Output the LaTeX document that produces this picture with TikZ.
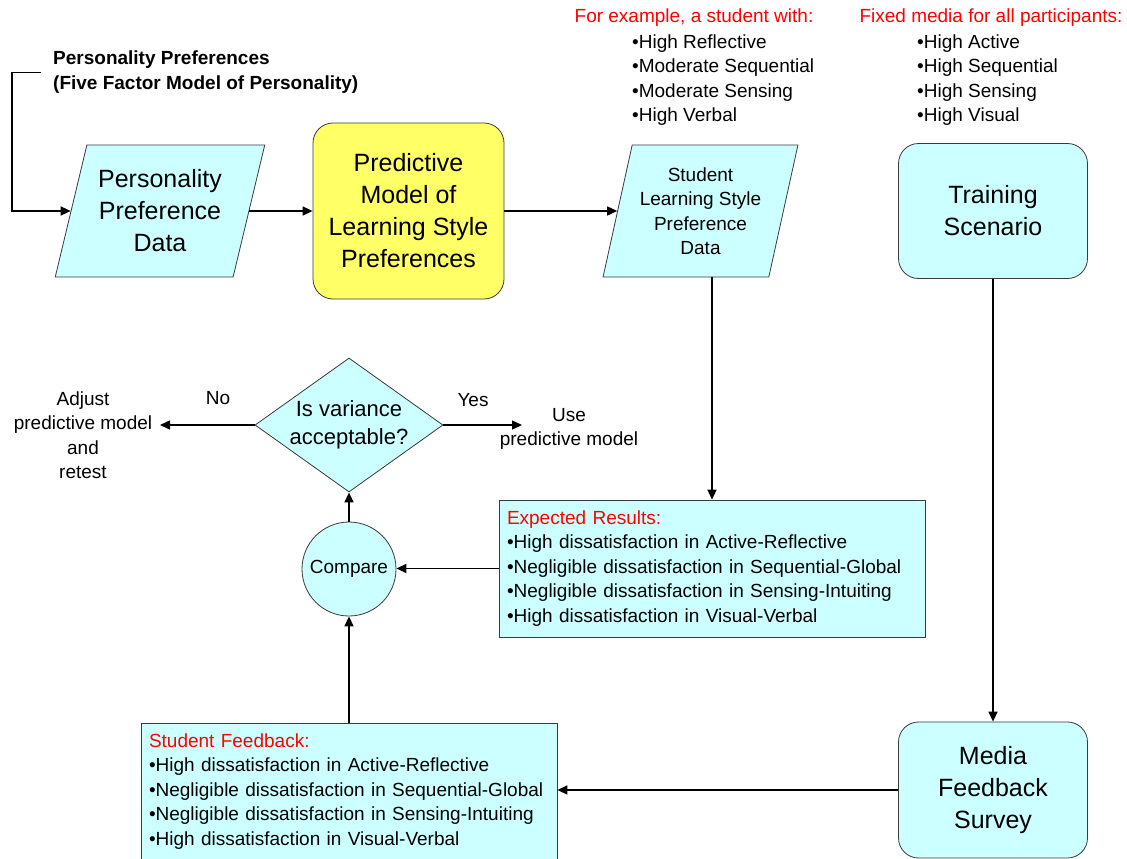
\documentclass[tikz,border=0pt]{standalone}
\usepackage{fontspec}
\setmainfont{Liberation Sans}
\usetikzlibrary{shapes.geometric,arrows.meta}
\definecolor{cyanfill}{HTML}{CCFFFF}
\definecolor{yellowfill}{HTML}{FFFF66}
\definecolor{edgecol}{HTML}{3A3A3A}
\definecolor{redtext}{HTML}{FF0000}
\begin{document}
\begin{tikzpicture}[x=1pt,y=-1pt,
  bigtext/.style={font=\fontsize{25}{32}\selectfont, align=center},
  medtext/.style={font=\fontsize{19}{24.5}\selectfont, align=center},
  listtext/.style={font=\fontsize{19}{24.5}\selectfont, align=left},
  parabox/.style={trapezium, trapezium stretches=true, trapezium left angle=72,
    trapezium right angle=108, draw=edgecol, fill=cyanfill, line width=0.8pt, inner sep=0pt},
  roundbox/.style={rectangle, rounded corners=20pt, draw=edgecol, line width=0.8pt, inner sep=0pt},
  plainbox/.style={rectangle, draw=edgecol, fill=cyanfill, line width=0.8pt, inner xsep=8pt, inner ysep=0pt},
  conn/.style={line width=1.5pt},
  arr/.style={conn, -{Triangle[length=10pt,width=9pt]}}
]
\useasboundingbox (0,0) rectangle (1127,859);

% header text
\node[font=\fontsize{19}{25}\bfseries, align=left, anchor=west, inner xsep=12pt, inner ysep=0pt] (pph) at (41,72.5)
  {Personality Preferences\\(Five Factor Model of Personality)};

% top row
\node[parabox, bigtext, minimum width=210, minimum height=132] (ppd) at (160,211)
  {Personality\\Preference\\Data};
\node[roundbox, fill=yellowfill, bigtext, minimum width=191, minimum height=176] (pm) at (408.5,211)
  {Predictive\\Model of\\Learning Style\\Preferences};
\node[parabox, medtext, trapezium left angle=73.5, trapezium right angle=106.5, minimum width=195, minimum height=132] (sld) at (700.5,211)
  {Student\\Learning Style\\Preference\\Data};
\node[roundbox, fill=cyanfill, bigtext, minimum width=189, minimum height=135] (trn) at (993,211)
  {Training\\Scenario};

% annotations at top
\node[medtext, text=redtext, inner sep=0pt] (exh) at (694,18) {For example, a student with:};
\node[listtext, anchor=west, inner sep=0pt] (exl) at (632,80)
  {•High Reflective\\•Moderate Sequential\\•Moderate Sensing\\•High Verbal};
\node[medtext, text=redtext, inner sep=0pt] (fmh) at (991,18) {Fixed media for all participants:};
\node[listtext, anchor=west, inner sep=0pt] (fml) at (917,80)
  {•High Active\\•High Sequential\\•High Sensing\\•High Visual};

% decision
\node[diamond, draw=edgecol, fill=cyanfill, line width=0.8pt, inner sep=0pt, aspect=1.4,
  minimum width=188, minimum height=134, font=\fontsize{22}{28}\selectfont, align=center] (dia) at (349,425)
  {Is variance\\acceptable?};
\node[circle, draw=edgecol, fill=cyanfill, line width=0.8pt, inner sep=0pt, minimum size=94, medtext] (cmp) at (349,569) {Compare};

\node[medtext, inner sep=0pt] (yes) at (473,400) {Yes};
\node[medtext, inner sep=0pt] (no) at (218,398) {No};
\node[medtext, inner sep=0pt] (use) at (569,429) {Use\\predictive model};
\node[medtext, inner sep=0pt] (adj) at (83,435) {Adjust\\predictive model\\and\\retest};
\coordinate (yesend) at (522,425);
\coordinate (noend) at (160,425);

% result boxes
\node[plainbox, listtext, text width=410, minimum height=137] (exp) at (712,568.5)
  {\textcolor{redtext}{Expected Results:}\\•High dissatisfaction in Active-Reflective\\•Negligible dissatisfaction in Sequential-Global\\•Negligible dissatisfaction in Sensing-Intuiting\\•High dissatisfaction in Visual-Verbal};
\node[plainbox, listtext, text width=400, minimum height=136] (sf) at (349,791.5)
  {\textcolor{redtext}{Student Feedback:}\\•High dissatisfaction in Active-Reflective\\•Negligible dissatisfaction in Sequential-Global\\•Negligible dissatisfaction in Sensing-Intuiting\\•High dissatisfaction in Visual-Verbal};
\node[roundbox, fill=cyanfill, bigtext, minimum width=189, minimum height=136] (med) at (993,790)
  {Media\\Feedback\\Survey};

% connectors
\coordinate (bend) at (12,140);
\draw[arr] (pph.west) -| (bend) |- (ppd.left side);
\draw[arr] (ppd.right side) -- (pm.west);
\draw[arr] (pm.east) -- (sld.left side);
\draw[arr] (sld.bottom side -| exp.north) -- (exp.north);
\draw[arr] (trn.south) -- (med.north);
\draw[arr] (med.west) -- (med.west -| sf.east);
\draw[arr] (exp.west) -- (exp.west -| cmp.east);
\draw[arr] (sf.north) -- (cmp.south);
\draw[arr] (cmp.north) -- (dia.south);
\draw[arr] (dia.east) -- (yesend);
\draw[arr] (dia.west) -- (noend);
\end{tikzpicture}
\end{document}
